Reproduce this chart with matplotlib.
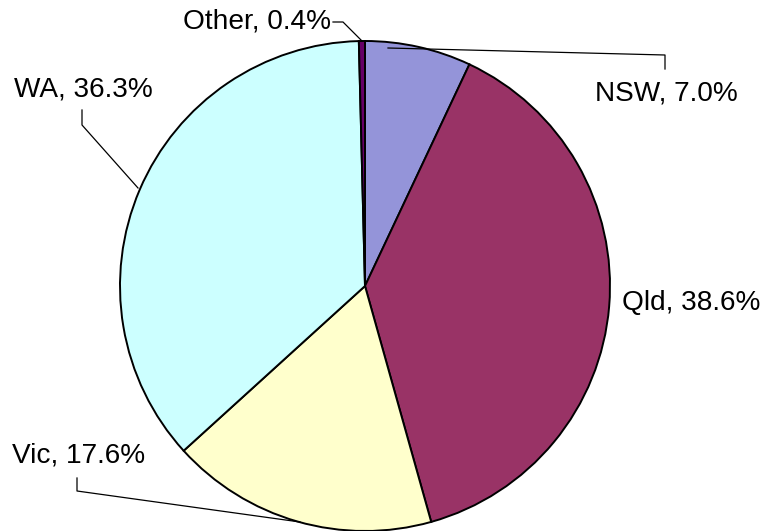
import matplotlib.pyplot as plt

plt.rcParams["font.family"] = ["Liberation Sans", "DejaVu Sans"]

labels = ["NSW", "Qld", "Vic", "WA", "Other"]
shares = [7.0, 38.6, 17.6, 36.3, 0.4]
colors = ["#9494D9", "#993366", "#FFFFCC", "#CCFFFF", "#660066"]

W, H = 764, 531


def px(x, y):
    # pixel-style coords (origin top-left) -> axes data coords
    return x, H - y


fig = plt.figure(figsize=(W / 100, H / 100), dpi=100)
ax = fig.add_axes([0, 0, 1, 1])

ax.pie(shares, colors=colors, startangle=90, counterclock=False,
       center=px(365, 286), radius=245,
       wedgeprops=dict(edgecolor="black", linewidth=1.4))
ax.set_xlim(0, W)
ax.set_ylim(0, H)
ax.set_aspect("equal")
ax.axis("off")

# label anchor (x, y, ha) and leader line points
label_pos = {
    "NSW": (595, 93, "left"),
    "Qld": (622, 303, "left"),
    "Vic": (12, 456, "left"),
    "WA": (14, 90, "left"),
    "Other": (331, 22, "right"),
}
leaders = {
    "NSW": [(388, 48), (665, 55), (665, 69)],
    "Vic": [(77, 478), (77, 491), (300, 522)],
    "WA": [(82, 110), (82, 125), (138, 188)],
    "Other": [(333, 22), (343, 22), (362, 41)],
}

for name, share in zip(labels, shares):
    x, y, ha = label_pos[name]
    ax.text(*px(x, y), f"{name}, {share:.1f}%", ha=ha, va="center",
            fontsize=20.2, color="black")
    if name in leaders:
        pts = [px(a, b) for a, b in leaders[name]]
        ax.plot([p[0] for p in pts], [p[1] for p in pts],
                color="black", linewidth=0.9)

fig.savefig("out.png", dpi=100)
